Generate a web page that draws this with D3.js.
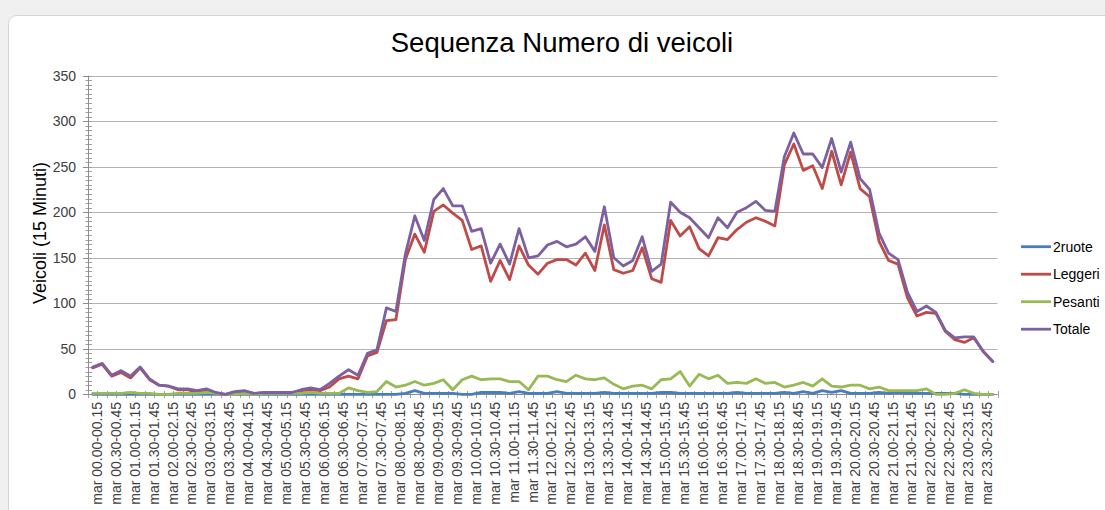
<!DOCTYPE html>
<html><head><meta charset="utf-8">
<script src="https://cdn.jsdelivr.net/npm/d3@7"></script>
<style>
body{margin:0;background:#f0f0f0;overflow:hidden;}
svg{display:block;font-family:"Liberation Sans",Arial,sans-serif;}
</style>
</head><body><svg id="c" width="1105" height="510"></svg>
<script>
const categories = [
"mar 00.00-00.15","mar 00.15-00.30","mar 00.30-00.45","mar 00.45-01.00",
"mar 01.00-01.15","mar 01.15-01.30","mar 01.30-01.45","mar 01.45-02.00",
"mar 02.00-02.15","mar 02.15-02.30","mar 02.30-02.45","mar 02.45-03.00",
"mar 03.00-03.15","mar 03.15-03.30","mar 03.30-03.45","mar 03.45-04.00",
"mar 04.00-04.15","mar 04.15-04.30","mar 04.30-04.45","mar 04.45-05.00",
"mar 05.00-05.15","mar 05.15-05.30","mar 05.30-05.45","mar 05.45-06.00",
"mar 06.00-06.15","mar 06.15-06.30","mar 06.30-06.45","mar 06.45-07.00",
"mar 07.00-07.15","mar 07.15-07.30","mar 07.30-07.45","mar 07.45-08.00",
"mar 08.00-08.15","mar 08.15-08.30","mar 08.30-08.45","mar 08.45-09.00",
"mar 09.00-09.15","mar 09.15-09.30","mar 09.30-09.45","mar 09.45-10.00",
"mar 10.00-10.15","mar 10.15-10.30","mar 10.30-10.45","mar 10.45-11.00",
"mar 11.00-11.15","mar 11.15-11.30","mar 11.30-11.45","mar 11.45-12.00",
"mar 12.00-12.15","mar 12.15-12.30","mar 12.30-12.45","mar 12.45-13.00",
"mar 13.00-13.15","mar 13.15-13.30","mar 13.30-13.45","mar 13.45-14.00",
"mar 14.00-14.15","mar 14.15-14.30","mar 14.30-14.45","mar 14.45-15.00",
"mar 15.00-15.15","mar 15.15-15.30","mar 15.30-15.45","mar 15.45-16.00",
"mar 16.00-16.15","mar 16.15-16.30","mar 16.30-16.45","mar 16.45-17.00",
"mar 17.00-17.15","mar 17.15-17.30","mar 17.30-17.45","mar 17.45-18.00",
"mar 18.00-18.15","mar 18.15-18.30","mar 18.30-18.45","mar 18.45-19.00",
"mar 19.00-19.15","mar 19.15-19.30","mar 19.30-19.45","mar 19.45-20.00",
"mar 20.00-20.15","mar 20.15-20.30","mar 20.30-20.45","mar 20.45-21.00",
"mar 21.00-21.15","mar 21.15-21.30","mar 21.30-21.45","mar 21.45-22.00",
"mar 22.00-22.15","mar 22.15-22.30","mar 22.30-22.45","mar 22.45-23.00",
"mar 23.00-23.15","mar 23.15-23.30","mar 23.30-23.45","mar 23.45-00.00"
];
// every other category is labelled on the axis
const tickLabels = categories.filter((d, i) => i % 2 === 0);

const ruote2 = [
0,0,0,0,0,0,0,0,0,0, 0,0,0,0,0,0,0,0,0,0,
0,0,0,0,0,0,0,0,0,0, 0,0,0,1,4,1,1,1,1,0,
0,2,2,2,1,3,1,1,1,3, 1,1,1,1,2,1,1,1,1,1,
2,2,1,1,1,1,1,1,2,1, 1,1,1,2,1,3,1,4,2,4,
1,1,1,2,1,2,1,1,1,1, 1,1,0,0,0,0
];
const leggeri = [
29,33,20,24,18,29,16,10,9,5, 5,2,4,1,0,2,3,1,1,1,
1,1,4,5,4,8,17,20,17,42, 46,81,82,148,176,156,201,208,199,191,
159,163,124,147,126,163,142,132,144,148, 148,142,155,136,186,137,133,136,161,127,
123,191,174,184,160,152,172,170,181,189, 194,190,185,252,275,246,251,226,267,230,
266,226,217,168,147,143,106,86,90,89, 69,60,57,62,47,36
];
const pesanti = [
1,1,1,1,2,1,1,0,0,1, 1,1,2,1,0,0,1,0,1,1,
1,1,1,2,1,1,1,7,4,2, 3,14,8,10,14,10,12,16,5,16,
20,16,17,17,14,14,5,20,20,16, 14,21,17,16,18,11,6,9,10,6,
16,17,25,9,22,17,21,12,13,12, 17,12,13,8,10,13,9,17,9,8,
10,10,6,8,4,4,4,4,6,0, 0,1,5,1,0,0
];
const totale = [
30,34,21,26,20,30,17,10,9,6, 6,4,6,2,0,3,4,1,2,2,
2,2,5,7,5,12,20,27,21,45, 49,95,91,154,196,169,214,226,207,207,
179,182,144,165,143,182,150,152,164,168, 162,165,173,157,206,150,141,147,173,135,
143,211,200,194,183,172,194,183,200,205, 212,202,201,261,287,264,264,249,281,244,
277,237,225,177,155,148,112,91,97,90, 70,62,63,63,47,36
];
const seriesNames = ["2ruote", "Leggeri", "Pesanti", "Totale"];
const seriesValues = [ruote2, leggeri, pesanti, totale];
const seriesColors = ["#4A7EBB", "#BE4B48", "#98B954", "#7D60A0"];
const yTickValues = [0, 50, 100, 150, 200, 250, 300, 350];
const yMinorTickValues = d3.range(0, 351, 5);
const titleText = "Sequenza Numero di veicoli";
const yTitleText = "Veicoli (15 Minuti)";

const svg = d3.select("#c");

// chart area frame
svg.append("rect").attr("x", 8.5).attr("y", 15.5).attr("width", 1120).attr("height", 520)
  .attr("rx", 8).attr("fill", "#ffffff").attr("stroke", "#d4d4d4");

const x = d3.scaleBand().domain(d3.range(categories.length)).range([88, 997.5]).paddingInner(0).paddingOuter(0);
const xc = i => x(i) + x.bandwidth() / 2;
const y = d3.scaleLinear().domain([0, 350]).range([394.3, 75.7]);

// gridlines
svg.append("g").selectAll("line").data(yTickValues.filter(v => v > 0)).join("line")
  .attr("x1", 88).attr("x2", 997.5)
  .attr("y1", d => Math.round(y(d)) + 0.5).attr("y2", d => Math.round(y(d)) + 0.5)
  .attr("stroke", "#b3b3b3").attr("stroke-width", 1);

// y axis minor ticks
svg.append("g").selectAll("line").data(yMinorTickValues).join("line")
  .attr("x1", 85.5).attr("x2", 92)
  .attr("y1", d => Math.round(y(d)) + 0.5).attr("y2", d => Math.round(y(d)) + 0.5)
  .attr("stroke", "#a0a0a0").attr("stroke-width", 1);
// y axis major ticks
svg.append("g").selectAll("line").data(yTickValues).join("line")
  .attr("x1", 83).attr("x2", 88.5)
  .attr("y1", d => Math.round(y(d)) + 0.5).attr("y2", d => Math.round(y(d)) + 0.5)
  .attr("stroke", "#8c8c8c").attr("stroke-width", 1);
// y axis line
svg.append("line").attr("x1", 88.5).attr("x2", 88.5).attr("y1", y(350)).attr("y2", y(0))
  .attr("stroke", "#8c8c8c");

// y labels
const yAxis = d3.axisLeft(y).tickValues(yTickValues).tickSize(0).tickPadding(12);
const gy = svg.append("g").attr("transform", "translate(88,0)").call(yAxis);
gy.select(".domain").remove();
gy.selectAll("text").attr("font-size", 14).attr("fill", "#404040")
  .attr("font-family", '"Liberation Sans",Arial,sans-serif');

// x axis ticks at category boundaries
const bounds = d3.range(categories.length + 1).map(i => i < categories.length ? x(i) : x(categories.length - 1) + x.bandwidth());
svg.append("g").selectAll("line").data(bounds).join("line")
  .attr("x1", d => Math.round(d) + 0.5).attr("x2", d => Math.round(d) + 0.5)
  .attr("y1", 391).attr("y2", 398)
  .attr("stroke", "#a0a0a0");
svg.append("line").attr("x1", 88).attr("x2", 997.5)
  .attr("y1", Math.round(y(0)) + 0.5).attr("y2", Math.round(y(0)) + 0.5).attr("stroke", "#8c8c8c");

// x labels
svg.append("g").selectAll("text").data(tickLabels).join("text")
  .attr("transform", (d, j) => `translate(${xc(j * 2) + 9},402) rotate(-90)`)
  .attr("text-anchor", "end")
  .attr("font-size", 14).attr("fill", "#404040")
  .text(d => d);

// series lines
const line = d3.line().x((d, i) => xc(i)).y(d => y(d)).curve(d3.curveLinear);
seriesValues.forEach((vals, k) => {
  svg.append("path").datum(vals).attr("d", line)
    .attr("fill", "none").attr("stroke", seriesColors[k])
    .attr("stroke-width", 2.8).attr("stroke-linejoin", "round").attr("stroke-linecap", "round");
});

// title
svg.append("text").attr("x", 562).attr("y", 52).attr("text-anchor", "middle")
  .attr("font-size", 27.5).attr("fill", "#000").text(titleText);

// y title
svg.append("text").attr("transform", "translate(45.5,233) rotate(-90)").attr("text-anchor", "middle")
  .attr("font-size", 18).attr("fill", "#000").text(yTitleText);

// legend
const lg = svg.append("g");
seriesNames.forEach((n, k) => {
  const ly = 246.7 + k * 27.5;
  lg.append("line").attr("x1", 1021).attr("x2", 1051).attr("y1", ly).attr("y2", ly)
    .attr("stroke", seriesColors[k]).attr("stroke-width", 2.8);
  lg.append("text").attr("x", 1053).attr("y", ly + 5).attr("font-size", 14)
    .attr("fill", "#000").text(n);
});
</script>
</body></html>
